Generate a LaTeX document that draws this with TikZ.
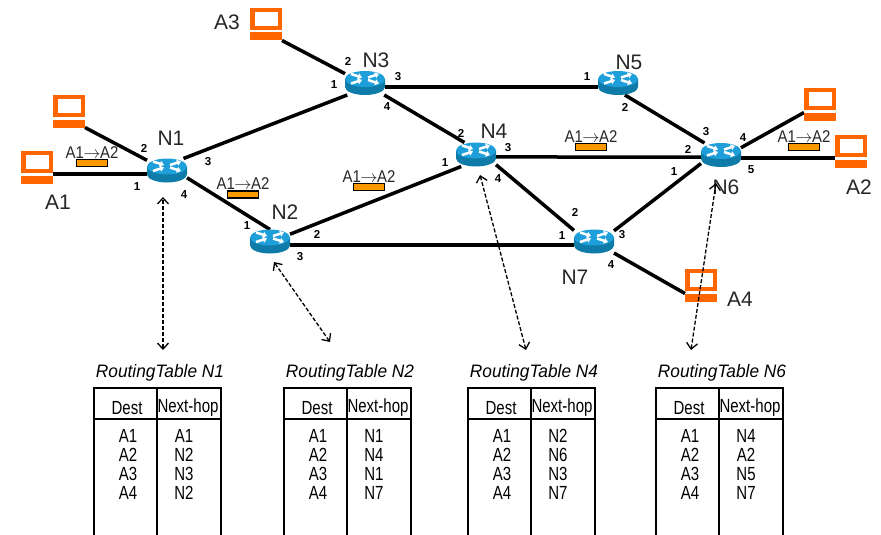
\documentclass[tikz,border=0pt]{standalone}
\usepackage{fontspec}
\usepackage{tikz}
\usetikzlibrary{arrows.meta, backgrounds, positioning}
\setmainfont{Liberation Sans}
\newfontfamily\narrowfont[FakeStretch=0.79]{Liberation Sans}
\newfontfamily\pktfont[FakeStretch=0.88]{Liberation Sans}
\newfontfamily\titlefont[FakeStretch=0.96]{Liberation Sans}
\definecolor{hostorange}{HTML}{FF6600}
\definecolor{pktorange}{HTML}{FF9900}
\definecolor{routertop}{HTML}{1E9FDA}
\definecolor{routerbody}{HTML}{0F7BA8}
\tikzset{router/.style={inner sep=0pt, outer sep=0pt, minimum width=40pt, minimum height=24pt,
                        path picture={
                            \begin{scope}[shift={(path picture bounding box.center)}]
                            \fill[routerbody] (-20pt,4pt) -- (-20pt,-4pt) arc[start angle=180, end angle=360, x radius=20pt, y radius=8pt] -- (20pt,4pt) -- cycle;
                            \fill[routertop] (0pt,4pt) ellipse[x radius=20pt, y radius=8pt];
                            \draw[white, line width=2.5pt, -{Triangle[length=4pt, width=6pt]}] (-14pt,9pt) -- (-3pt,5.5pt);
                            \draw[white, line width=2.5pt, -{Triangle[length=4pt, width=6pt]}] (-14pt,-0.5pt) -- (-3pt,3pt);
                            \draw[white, line width=2.5pt, -{Triangle[length=4pt, width=6pt]}] (3pt,5.5pt) -- (14pt,9pt);
                            \draw[white, line width=2.5pt, -{Triangle[length=4pt, width=6pt]}] (3pt,3pt) -- (14pt,-0.5pt);
                            \end{scope}
                        }},
         screen/.style={draw=hostorange, line width=4.5pt, fill=white, inner sep=0pt, outer sep=0pt,
                        minimum width=27.5pt, minimum height=18pt},
         hostbase/.style={fill=hostorange, inner sep=0pt, outer sep=0pt, minimum width=32pt, minimum height=8pt},
         packet/.style={draw, line width=1.2pt, fill=pktorange, inner sep=0pt, outer sep=0pt,
                        minimum width=31pt, minimum height=7pt},
         pktlabel/.style={inner sep=0pt, font=\fontsize{17}{17}\selectfont\pktfont, text=black!85},
         netname/.style={inner sep=0pt, font=\fontsize{21}{21}\selectfont, text=black!85},
         port/.style={inner sep=0pt, font=\fontsize{11.5}{12}\selectfont\bfseries},
         link/.style={line width=3.5pt},
         query/.style={{Straight Barb[length=6pt, width=11pt]}-{Straight Barb[length=6pt, width=11pt]},
                       line width=1.3pt, dash pattern=on 4pt off 2pt},
         tableline/.style={line width=2pt},
         tabletext/.style={inner sep=0pt, align=center, font=\fontsize{19}{19}\selectfont\narrowfont},
         tabletitle/.style={inner sep=0pt, font=\fontsize{18}{18}\selectfont\titlefont\itshape},
         }
\begin{document}
\begin{tikzpicture}[x=1pt, y=-1pt]
    \useasboundingbox (0,0) rectangle (881,535);

    % hosts
    \foreach \hname/\hx/\hy in {A1/37/162, B/69/106, A3/266/19, C/820/99, A2/851/146, A4/701/280}{
        \node[screen] (h\hname) at (\hx,\hy) {};
        \node[hostbase, below=4.5pt of h\hname] (b\hname) {};
    }

    % routers
    \node[router] (N1) at (167,170.5) {};
    \node[router] (N2) at (270,241.5) {};
    \node[router] (N3) at (365,83) {};
    \node[router] (N4) at (476,154.5) {};
    \node[router] (N5) at (618,83) {};
    \node[router] (N6) at (721,155) {};
    \node[router] (N7) at (594,241.5) {};

    \begin{pgfonlayer}{background}
    \draw[link] (N1.36) edge (N3.214)
                (N1.-20) edge (N2.90)
                (N2.20) edge (N4.219)
                (N2.-10) edge (N7.190)
                (N3.-11) edge (N5.191)
                (N3.-32) edge (N4.134)
                (N4.-7) edge (N6.186)
                (N4.-27) edge (N7.151)
                (N5.-60) edge (N6.144)
                (N7.28) edge (N6.203)
                (N1.190 -| bA1.east) edge (N1.190)
                (bB.south east) edge (N1.153)
                (bA3.south east) edge (N3.155)
                (bC.north west) edge (N6.20)
                (N6.-8 -| bA2.west) edge (N6.-8)
                (bA4.north west) edge (N7.-30);
    \end{pgfonlayer}

    % names
    \node[netname] (lN1) at (171,138) {N1};
    \node[netname] (lN2) at (285,212) {N2};
    \node[netname] (lN3) at (376,60) {N3};
    \node[netname] (lN4) at (494,131) {N4};
    \node[netname] (lN5) at (629,62) {N5};
    \node[netname] (lN6) at (726,187) {N6};
    \node[netname] (lN7) at (575,277) {N7};
    \node[netname] (lA1) at (58,202) {A1};
    \node[netname] (lA2) at (859,187) {A2};
    \node[netname] (lA3) at (227,22) {A3};
    \node[netname] (lA4) at (740,299) {A4};

    % ports
    \foreach \pname/\px/\py/\ptext in {a/144/148/2, b/208/162/3, c/137/187/1, d/184/195/4,
                                       e/247/226/1, f/317/234/2, g/300/257/3,
                                       h/348/61/2, i/398/77/3, j/334/85/1, k/387/107/4,
                                       l/461/133/2, m/508/148/3, n/445/163/1, o/498/179/4,
                                       p/587/77/1, q/625/107/2,
                                       r/706/132/3, s/743/138/4, t/688/149/2, u/674/172/1, v/751/170/5,
                                       w/575/212/2, x/562/236/1, y/622/235/3, z/611/265/4}{
        \node[port] (port\pname) at (\px,\py) {\ptext};
    }

    % packets
    \foreach \kname/\kx/\ky in {1/92/163, 2/243/194.5, 3/369/187, 4/591/147, 5/804/147}{
        \node[packet] (pkt\kname) at (\kx,\ky) {};
        \node[pktlabel, above=1pt of pkt\kname] (pl\kname) {A1\kern-0.5pt$\rightarrow$\kern-0.5pt A2};
    }

    % tables
    \foreach \tname/\tx/\hops in {N1/94/{A1\\N2\\N3\\N2}, N2/284/{N1\\N4\\N1\\N7},
                                  N4/468/{N2\\N6\\N3\\N7}, N6/656/{N4\\A2\\N5\\N7}}{
        \node[tabletitle] (title\tname) at (\tx+66,373) {RoutingTable \tname};
        \draw[tableline] (\tx,535) -- (\tx,388) -- (\tx+127,388) -- (\tx+127,535)
                         (\tx,419) -- (\tx+127,419)
                         (\tx+63,388) -- (\tx+63,535);
        \node[tabletext] (dest\tname) at (\tx+33,408) {Dest};
        \node[tabletext] (next\tname) at (\tx+94,408) {Next-hop};
        \node[tabletext, anchor=north] (dests\tname) at (\tx+34,429) {\strut A1\\A2\\A3\\A4};
        \node[tabletext, anchor=north] (hops\tname) at (\tx+90,429) {\strut\hops};
    }

    % table to router
    \coordinate (q1) at (163,350);
    \coordinate (q2) at (330,342);
    \coordinate (q4) at (526,350);
    \coordinate (q6) at (691,350);
    \draw[query, shorten >=14.5pt] (q1) -- ([xshift=-4pt]N1.south);
    \draw[query, shorten >=10.4pt] (q2) -- ([xshift=-2pt]N2.south);
    \draw[query, shorten >=8.8pt] (q4) -- ([xshift=1.8pt]N4.south);
    \draw[query, shorten >=16.2pt] (q6) -- ([xshift=-2.6pt]N6.south);
\end{tikzpicture}
\end{document}
